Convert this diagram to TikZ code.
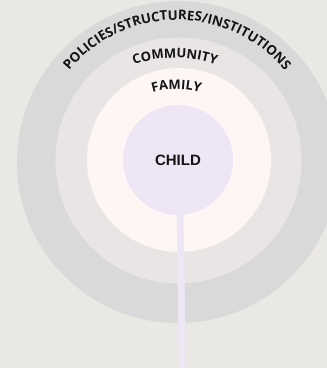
\documentclass[tikz,border=0pt]{standalone}
\usepackage{fontspec}
\setmainfont{Liberation Sans}[BoldFont=Liberation Sans Bold]
\newfontfamily\arcfont{Open Sans}
\newfontfamily\childfont{Liberation Sans Bold}
\usetikzlibrary{decorations.text}
\definecolor{bg}{HTML}{E9E8E4}
\definecolor{ringA}{HTML}{D9D9D9}
\definecolor{ringB}{HTML}{E8E5E4}
\definecolor{ringC}{HTML}{FDF6F5}
\definecolor{childc}{HTML}{EFE6F5}
\definecolor{ink}{HTML}{141414}
\begin{document}
\begin{tikzpicture}[x=1pt,y=1pt,
  ring/.style={circle, inner sep=0pt, draw=none},
  stemline/.style={draw=childc, line width=7pt},
  arctext/.style={decorate, decoration={text along path, text align=center, text color=ink}}]
\useasboundingbox (0,0) rectangle (327,368);
\fill[bg] (0,0) rectangle (327,368);
\clip (0,0) rectangle (327,368);
\node[ring, fill=ringA, minimum size=322pt] (policies) at (178,206) {};
\node[ring, fill=ringB, minimum size=246pt] (community) at (178.5,207.5) {};
\node[ring, fill=ringC, minimum size=184pt] (family) at (179,208) {};
\node[ring, fill=childc, minimum size=110pt, text=ink, font=\childfont\fontsize{15}{18}\selectfont] (child) at (178,208) {CHILD};
\coordinate (stemend) at (182.5,-2);
\draw[stemline] ([xshift=2pt]child.south) -- (stemend);
\path[arctext, decoration={text={|\arcfont\bfseries\fontsize{13.3}{16}\selectfont|POLICIES/STRUCTURES/INSTITUTIONS}}]
  (177,208) ++(180:140) arc[start angle=180, end angle=0, radius=140pt];
\path[arctext, decoration={text={|\arcfont\bfseries\fontsize{13}{15}\selectfont|COMMUNITY}}]
  (175,180) ++(180:130) arc[start angle=180, end angle=0, radius=130pt];
\path[arctext, decoration={text={|\arcfont\bfseries\fontsize{13}{15}\selectfont|FAMILY}}]
  (176.5,195) ++(180:84) arc[start angle=180, end angle=0, radius=84pt];
\end{tikzpicture}
\end{document}
